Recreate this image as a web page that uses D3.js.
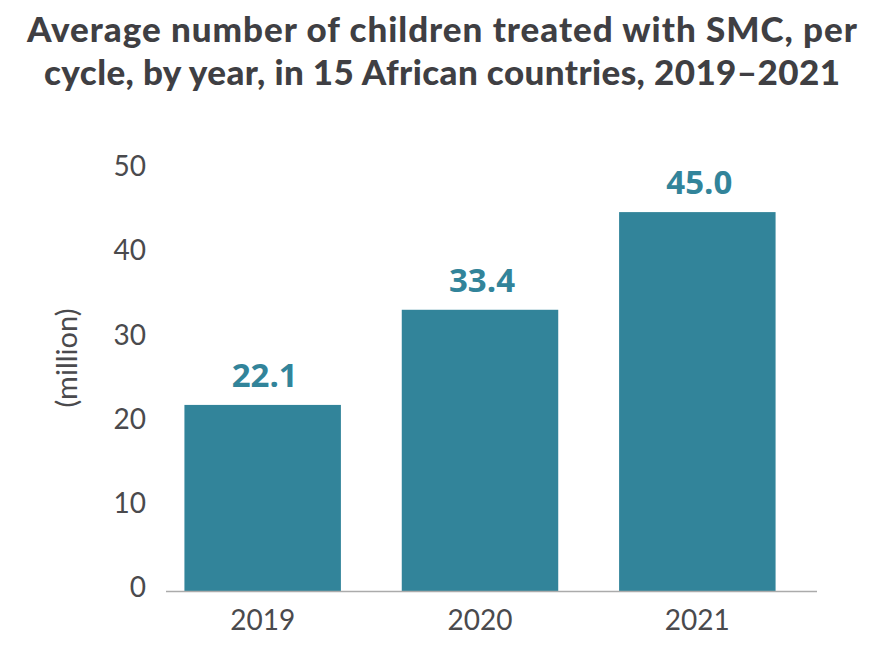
<!DOCTYPE html>
<html>
<head>
<meta charset="utf-8">
<script src="https://cdn.jsdelivr.net/npm/d3@7"></script>
<style>
  html, body { margin: 0; padding: 0; background: #fff; }
  svg { display: block; }
</style>
</head>
<body>
<div id="chart"></div>
<script>
// Chart data
const years = ['2019', '2020', '2021'];
const children = [22.1, 33.4, 45.0];
const yTicks = [0, 10, 20, 30, 40, 50];
const titleLines = [
    'Average number of children treated with SMC, per',
    'cycle, by year, in 15 African countries, 2019\u20132021'
];
const yLabel = '(million)';

const width = 891;
const height = 653;
const barColor = '#32849a';
const textColor = '#4a4a4d';
const titleWidths = [830, 796];

const svg = d3.select('#chart')
    .append('svg')
    .attr('width', width)
    .attr('height', height);

// Title
svg.append('g')
    .selectAll('text')
    .data(titleLines)
    .enter()
    .append('text')
    .attr('x', 442)
    .attr('y', (d, i) => 42 + i * 43)
    .attr('text-anchor', 'middle')
    .attr('font-family', 'Lato, sans-serif')
    .attr('font-weight', 900)
    .attr('font-size', '35px')
    .attr('fill', '#3f3f43')
    .attr('textLength', (d, i) => titleWidths[i])
    .attr('lengthAdjust', 'spacing')
    .text(d => d);

// Scales
const x = d3.scaleBand()
    .domain(years)
    .range([154, 806])
    .paddingInner(0.28)
    .paddingOuter(0.14);

const y = d3.scaleLinear()
    .domain([0, 50])
    .range([591, 170]);

// Y axis (labels only)
const yAxis = svg.append('g')
    .attr('transform', 'translate(146,0)')
    .call(d3.axisLeft(y).tickValues(yTicks).tickSize(0).tickPadding(0));
yAxis.select('.domain').remove();
yAxis.selectAll('text')
    .attr('font-family', 'Lato, sans-serif')
    .attr('font-size', '28px')
    .attr('fill', textColor)
    .attr('dy', '0.2em');

// Y label
svg.append('text')
    .attr('transform', 'translate(77,358) rotate(-90)')
    .attr('text-anchor', 'middle')
    .attr('font-family', 'Lato, sans-serif')
    .attr('font-weight', 400)
    .attr('font-size', '29px')
    .attr('fill', textColor)
    .text(yLabel);

// Bars
const data = years.map((yr, i) => ({ year: yr, value: children[i] }));

svg.append('g')
    .selectAll('rect')
    .data(data)
    .enter()
    .append('rect')
    .attr('x', d => x(d.year))
    .attr('y', d => y(d.value))
    .attr('width', x.bandwidth())
    .attr('height', d => y(0) - y(d.value))
    .attr('fill', barColor);

// Value labels
svg.append('g')
    .selectAll('text')
    .data(data)
    .enter()
    .append('text')
    .attr('x', d => x(d.year) + x.bandwidth() / 2 + 2)
    .attr('y', d => y(d.value) - 18)
    .attr('text-anchor', 'middle')
    .attr('font-family', '"Open Sans", sans-serif')
    .attr('font-weight', 700)
    .attr('font-size', '33px')
    .attr('fill', barColor)
    .text(d => d.value.toFixed(1));

// X axis
const xAxis = svg.append('g')
    .attr('transform', `translate(0,${y(0)})`)
    .call(d3.axisBottom(x).tickSize(0).tickPadding(19));
xAxis.select('.domain').remove();
xAxis.selectAll('text')
    .attr('font-family', 'Lato, sans-serif')
    .attr('font-size', '28px')
    .attr('fill', textColor)
    .attr('dy', '0.71em');

svg.append('line')
    .attr('x1', 166)
    .attr('x2', 817)
    .attr('y1', y(0) + 0.5)
    .attr('y2', y(0) + 0.5)
    .attr('stroke', '#ababab')
    .attr('stroke-width', 1.5);
</script>
</body>
</html>
